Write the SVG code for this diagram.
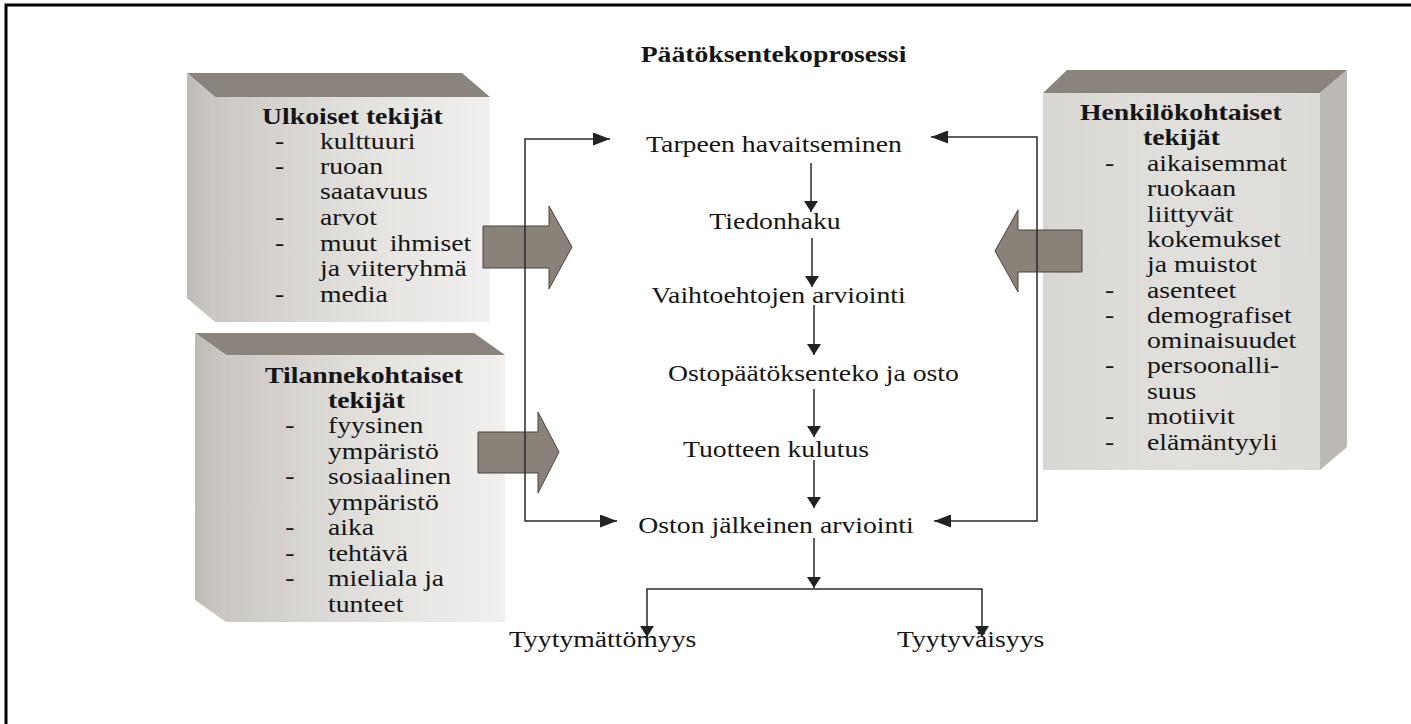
<svg xmlns="http://www.w3.org/2000/svg" width="1411" height="724" viewBox="0 0 1411 724">
  <style>
    .t { font-family: "Liberation Serif", "Times New Roman", serif; font-size: 24px; fill: #151515; }
    .b { font-weight: bold; }
    .m { text-anchor: middle; }
    .top { fill: #8b847c; }
    .side { fill: url(#sideG); }
    .front { fill: url(#frontG); }
    .block { fill: #8a8279; stroke: #4a4540; stroke-width: 1; }
    .con { fill: none; stroke: #2a2a2a; stroke-width: 1.5; }
  </style>
  <defs>
    <linearGradient id="frontG" x1="0" y1="0" x2="1" y2="0">
      <stop offset="0" stop-color="#cbc8c4"/>
      <stop offset="0.55" stop-color="#e4e2df"/>
      <stop offset="1" stop-color="#f1f0ee"/>
    </linearGradient>
    <linearGradient id="frontR" x1="0" y1="0" x2="1" y2="0">
      <stop offset="0" stop-color="#d9d7d4"/>
      <stop offset="0.5" stop-color="#e2e0dd"/>
      <stop offset="1" stop-color="#dddbd8"/>
    </linearGradient>
    <linearGradient id="sideG" x1="0" y1="0" x2="1" y2="0">
      <stop offset="0" stop-color="#bdb9b4"/>
      <stop offset="1" stop-color="#cdc9c5"/>
    </linearGradient>
    <marker id="ahV" markerWidth="18" markerHeight="14" refX="14" refY="9" orient="auto" markerUnits="userSpaceOnUse" viewBox="0 0 14 18">
      <path d="M0,0 L14,9 L0,18 z" fill="#222"/>
    </marker>
    <marker id="ahH" markerWidth="17" markerHeight="13" refX="17" refY="6.5" orient="auto-start-reverse" markerUnits="userSpaceOnUse" viewBox="0 0 17 13">
      <path d="M0,0 L17,6.5 L0,13 z" fill="#222"/>
    </marker>
    <marker id="ahB" markerWidth="18" markerHeight="14" refX="14" refY="9" orient="auto-start-reverse" markerUnits="userSpaceOnUse" viewBox="0 0 14 18">
      <path d="M0,0 L14,9 L0,18 z" fill="#222"/>
    </marker>
  </defs>

  <rect width="1411" height="724" fill="#ffffff"/>
  <!-- page frame -->
  <path d="M6,724 V5 H1411" fill="none" stroke="#000" stroke-width="3"/>

  <!-- title -->
  <g id="title">
    <g transform="scale(1.155 1)">
      <text class="t b m" x="669.7" y="62">Päätöksentekoprosessi</text>
    </g>
  </g>

  <!-- external factors box -->
  <g id="ulkoiset">
    <polygon class="top" points="187,73 462,73 490,97 215,97"/>
    <polygon class="side" points="187,73 215,97 215,322 187,298"/>
    <rect class="front" x="215" y="97" width="275" height="225"/>
    <g transform="translate(320 0) scale(1.155 1)">
      <text class="t b" x="-50.2" y="124">Ulkoiset tekijät</text>
      <text class="t" x="-39" y="149">-</text>
      <text class="t" x="0" y="149">kulttuuri</text>
      <text class="t" x="-39" y="174">-</text>
      <text class="t" x="0" y="174">ruoan</text>
      <text class="t" x="0" y="199">saatavuus</text>
      <text class="t" x="-39" y="225">-</text>
      <text class="t" x="0" y="225">arvot</text>
      <text class="t" x="-39" y="251">-</text>
      <text class="t" x="0" y="251" word-spacing="5">muut ihmiset</text>
      <text class="t" x="0" y="276">ja viiteryhmä</text>
      <text class="t" x="-39" y="302">-</text>
      <text class="t" x="0" y="302">media</text>
    </g>
  </g>

  <!-- situational factors box -->
  <g id="tilannekohtaiset">
    <polygon class="top" points="195,333 474,333 505,355 226,355"/>
    <polygon class="side" points="195,333 226,355 226,622 195,600"/>
    <rect class="front" x="226" y="355" width="279" height="267"/>
    <g transform="translate(328 0) scale(1.155 1)">
      <text class="t b" x="-54.5" y="383">Tilannekohtaiset</text>
      <text class="t b" x="0" y="408">tekijät</text>
      <text class="t" x="-37" y="433">-</text>
      <text class="t" x="0" y="433">fyysinen</text>
      <text class="t" x="0" y="458.6">ympäristö</text>
      <text class="t" x="-37" y="484.1">-</text>
      <text class="t" x="0" y="484.1">sosiaalinen</text>
      <text class="t" x="0" y="509.7">ympäristö</text>
      <text class="t" x="-37" y="535.3">-</text>
      <text class="t" x="0" y="535.3">aika</text>
      <text class="t" x="-37" y="560.9">-</text>
      <text class="t" x="0" y="560.9">tehtävä</text>
      <text class="t" x="-37" y="586.4">-</text>
      <text class="t" x="0" y="586.4">mieliala ja</text>
      <text class="t" x="0" y="612">tunteet</text>
    </g>
  </g>

  <!-- personal factors box -->
  <g id="henkilokohtaiset">
    <polygon class="top" points="1043,93 1067,70 1347,70 1320,93"/>
    <polygon points="1320,93 1347,70 1347,447 1320,470" fill="#bcb8b3"/>
    <rect x="1043" y="93" width="277" height="377" fill="url(#frontR)"/>
    <g transform="translate(1147 0) scale(1.155 1)">
      <text class="t b" x="-58" y="120.5">Henkilökohtaiset</text>
      <text class="t b" x="-3.5" y="145.5">tekijät</text>
      <text class="t" x="-36.4" y="171">-</text>
      <text class="t" x="0" y="171">aikaisemmat</text>
      <text class="t" x="0" y="196.5">ruokaan</text>
      <text class="t" x="0" y="222">liittyvät</text>
      <text class="t" x="0" y="247">kokemukset</text>
      <text class="t" x="0" y="272.5">ja muistot</text>
      <text class="t" x="-36.4" y="298">-</text>
      <text class="t" x="0" y="298">asenteet</text>
      <text class="t" x="-36.4" y="323">-</text>
      <text class="t" x="0" y="323">demografiset</text>
      <text class="t" x="0" y="348">ominaisuudet</text>
      <text class="t" x="-36.4" y="373.5">-</text>
      <text class="t" x="0" y="373.5">persoonalli-</text>
      <text class="t" x="0" y="399">suus</text>
      <text class="t" x="-36.4" y="424.5">-</text>
      <text class="t" x="0" y="424.5">motiivit</text>
      <text class="t" x="-36.4" y="450">-</text>
      <text class="t" x="0" y="450">elämäntyyli</text>
    </g>
  </g>

  <!-- broad influence arrows -->
  <g id="influence-arrows">
    <polygon class="block" points="483,226 549,226 549,206 572,247 549,289 549,268 483,268"/>
    <polygon class="block" points="478,432 538,432 538,412 559,452 538,493 538,473 478,473"/>
    <polygon class="block" points="1082,230 1018,230 1018,210 995,251 1018,292 1018,272 1082,272"/>
  </g>

  <!-- decision process stages -->
  <g id="stages">
    <g transform="scale(1.155 1)">
      <text class="t m" x="670.1" y="152">Tarpeen havaitseminen</text>
      <text class="t m" x="671" y="229">Tiedonhaku</text>
      <text class="t m" x="674" y="303">Vaihtoehtojen arviointi</text>
      <text class="t m" x="704.3" y="381">Ostopäätöksenteko ja osto</text>
      <text class="t m" x="671.9" y="457">Tuotteen kulutus</text>
      <text class="t m" x="671.9" y="533">Oston jälkeinen arviointi</text>
      <text class="t" x="440.7" y="647">Tyytymättömyys</text>
      <text class="t" x="776.6" y="647">Tyytyväisyys</text>
    </g>
  </g>

  <!-- connectors -->
  <g id="connectors">
    <path class="con" d="M811,163 V212" marker-end="url(#ahV)"/>
    <path class="con" d="M812,238 V287" marker-end="url(#ahV)"/>
    <path class="con" d="M814,305 V355" marker-end="url(#ahV)"/>
    <path class="con" d="M814,389 V437" marker-end="url(#ahV)"/>
    <path class="con" d="M814,460 V508" marker-end="url(#ahV)"/>
    <path class="con" d="M814,538 V588" marker-end="url(#ahV)"/>
    <path class="con" d="M647,637 V589 H982 V637" marker-start="url(#ahB)" marker-end="url(#ahB)"/>
    <path class="con" d="M610,139 H525 V521 H617" marker-start="url(#ahH)" marker-end="url(#ahH)"/>
    <path class="con" d="M931,137 H1037 V521 H934" marker-start="url(#ahH)" marker-end="url(#ahH)"/>
  </g>
</svg>
